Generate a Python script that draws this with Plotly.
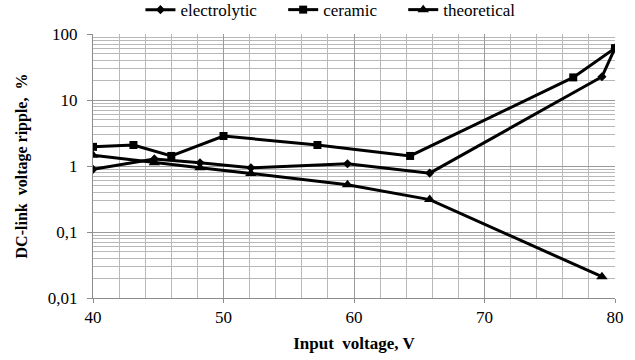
import plotly.graph_objects as go

# Data
elec_x = [40, 44.7, 48.2, 52.1, 59.5, 65.8, 79.0, 80.0]
elec_y = [0.89, 1.28, 1.12, 0.94, 1.08, 0.78, 22.5, 61]

cer_x = [40, 43.1, 46.0, 50.0, 57.2, 64.3, 76.8, 80.0]
cer_y = [1.95, 2.08, 1.42, 2.85, 2.08, 1.42, 22.0, 61]

theo_x = [40, 44.7, 48.2, 52.1, 59.5, 65.8, 79.0]
theo_y = [1.45, 1.12, 0.94, 0.77, 0.52, 0.31, 0.021]

series_names = ["electrolytic", "ceramic", "theoretical"]

FONT = "Liberation Serif"
GAP = "\u00a0" * 5

fig = go.Figure()
for xs, ys, nm, sym, sz in [
    (elec_x, elec_y, series_names[0], "diamond", 7),
    (cer_x, cer_y, series_names[1], "square", 8),
    (theo_x, theo_y, series_names[2], "triangle-up", 10),
]:
    fig.add_trace(go.Scatter(x=xs, y=ys, name=nm + GAP, mode="lines+markers",
                             line=dict(color="black", width=3),
                             marker=dict(symbol=sym, size=sz, color="black")))

fig.update_layout(
    width=635, height=360,
    margin=dict(l=93, r=20, t=34, b=62, autoexpand=False),
    paper_bgcolor="white", plot_bgcolor="white",
    separators=", ",
    font=dict(family=FONT, size=17, color="black"),
    showlegend=True,
    legend=dict(orientation="h", xref="paper", x=0.475, xanchor="center",
                yref="container", y=0.972, yanchor="middle",
                font=dict(family=FONT, size=17),
                bgcolor="rgba(0,0,0,0)"),
    xaxis=dict(
        range=[40, 80], tickmode="linear", tick0=40, dtick=10,
        automargin=False,
        showgrid=True, gridcolor="#9a9a9a", gridwidth=1,
        minor=dict(tickmode="linear", tick0=40, dtick=2, showgrid=True,
                   gridcolor="#b8b8b8", gridwidth=1, ticks=""),
        showline=True, linecolor="#8c8c8c", linewidth=1,
        ticks="outside", ticklen=4, tickcolor="#8c8c8c",
        zeroline=False,
        tickfont=dict(family=FONT, size=17),
        title=dict(text="<b>Input  voltage, V</b>", font=dict(family=FONT, size=17), standoff=10),
    ),
    yaxis=dict(
        type="log", range=[-2, 2], dtick=1, exponentformat="none",
        automargin=False,
        showgrid=True, gridcolor="#9a9a9a", gridwidth=1,
        minor=dict(dtick="D1", showgrid=True, gridcolor="#b8b8b8", gridwidth=1, ticks=""),
        showline=True, linecolor="#8c8c8c", linewidth=1,
        ticks="outside", ticklen=5, tickcolor="#8c8c8c",
        ticklabelstandoff=6,
        zeroline=False,
        tickfont=dict(family=FONT, size=17),
        title=dict(text="<b>DC-link  voltage ripple,  %</b>", font=dict(family=FONT, size=16), standoff=16),
    ),
)

fig.write_html("out.html")
